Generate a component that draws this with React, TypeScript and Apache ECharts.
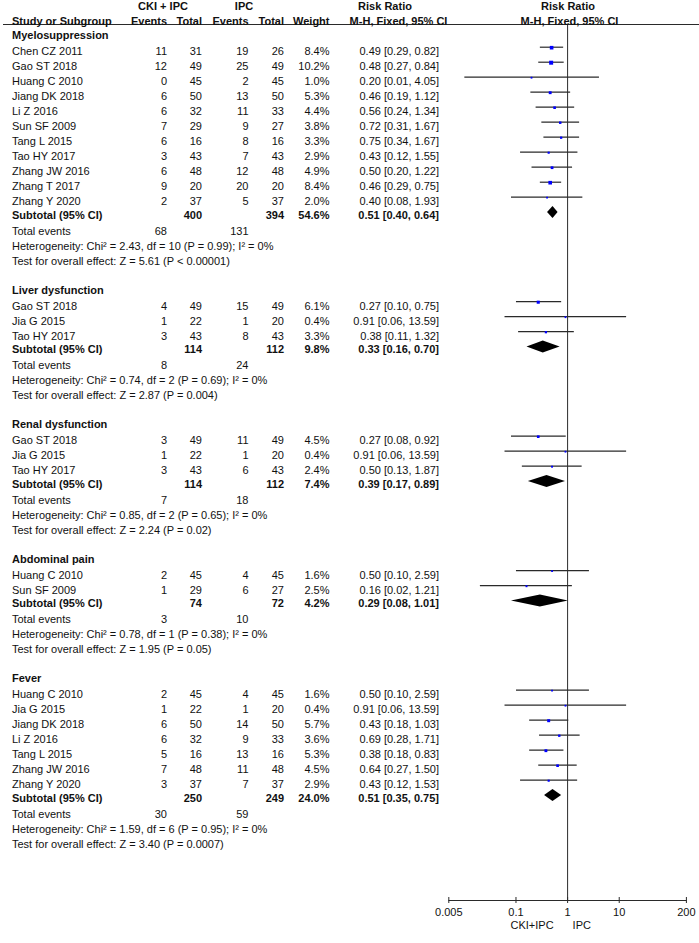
import React, { useEffect, useRef } from "react";
import * as echarts from "echarts";

// ---------------- DATA ----------------
const sectionTitles = ["Myelosuppression", "Liver dysfunction", "Renal dysfunction", "Abdominal pain", "Fever"];

const myeloStudies = ["Chen CZ 2011", "Gao ST 2018", "Huang C 2010", "Jiang DK 2018", "Li Z 2016", "Sun SF 2009", "Tang L 2015", "Tao HY 2017", "Zhang JW 2016", "Zhang T 2017", "Zhang Y 2020"];
const myeloCkiEvents = [11, 12, 0, 6, 6, 7, 6, 3, 6, 9, 2];
const myeloCkiTotal = [31, 49, 45, 50, 32, 29, 16, 43, 48, 20, 37];
const myeloIpcEvents = [19, 25, 2, 13, 11, 9, 8, 7, 12, 20, 5];
const myeloIpcTotal = [26, 49, 45, 50, 33, 27, 16, 43, 48, 20, 37];
const myeloWeight = [8.4, 10.2, 1.0, 5.3, 4.4, 3.8, 3.3, 2.9, 4.9, 8.4, 2.0];
const myeloRR = [0.49, 0.48, 0.2, 0.46, 0.56, 0.72, 0.75, 0.43, 0.5, 0.46, 0.4];
const myeloLo = [0.29, 0.27, 0.01, 0.19, 0.24, 0.31, 0.34, 0.12, 0.2, 0.29, 0.08];
const myeloHi = [0.82, 0.84, 4.05, 1.12, 1.34, 1.67, 1.67, 1.55, 1.22, 0.75, 1.93];

const liverStudies = ["Gao ST 2018", "Jia G 2015", "Tao HY 2017"];
const liverCkiEvents = [4, 1, 3];
const liverCkiTotal = [49, 22, 43];
const liverIpcEvents = [15, 1, 8];
const liverIpcTotal = [49, 20, 43];
const liverWeight = [6.1, 0.4, 3.3];
const liverRR = [0.27, 0.91, 0.38];
const liverLo = [0.1, 0.06, 0.11];
const liverHi = [0.75, 13.59, 1.32];

const renalStudies = ["Gao ST 2018", "Jia G 2015", "Tao HY 2017"];
const renalCkiEvents = [3, 1, 3];
const renalCkiTotal = [49, 22, 43];
const renalIpcEvents = [11, 1, 6];
const renalIpcTotal = [49, 20, 43];
const renalWeight = [4.5, 0.4, 2.4];
const renalRR = [0.27, 0.91, 0.5];
const renalLo = [0.08, 0.06, 0.13];
const renalHi = [0.92, 13.59, 1.87];

const abdoStudies = ["Huang C 2010", "Sun SF 2009"];
const abdoCkiEvents = [2, 1];
const abdoCkiTotal = [45, 29];
const abdoIpcEvents = [4, 6];
const abdoIpcTotal = [45, 27];
const abdoWeight = [1.6, 2.5];
const abdoRR = [0.5, 0.16];
const abdoLo = [0.1, 0.02];
const abdoHi = [2.59, 1.21];

const feverStudies = ["Huang C 2010", "Jia G 2015", "Jiang DK 2018", "Li Z 2016", "Tang L 2015", "Zhang JW 2016", "Zhang Y 2020"];
const feverCkiEvents = [2, 1, 6, 6, 5, 7, 3];
const feverCkiTotal = [45, 22, 50, 32, 16, 48, 37];
const feverIpcEvents = [4, 1, 14, 9, 13, 11, 7];
const feverIpcTotal = [45, 20, 50, 33, 16, 48, 37];
const feverWeight = [1.6, 0.4, 5.7, 3.6, 5.3, 4.5, 2.9];
const feverRR = [0.5, 0.91, 0.43, 0.69, 0.38, 0.64, 0.43];
const feverLo = [0.1, 0.06, 0.18, 0.28, 0.18, 0.27, 0.12];
const feverHi = [2.59, 13.59, 1.03, 1.71, 0.83, 1.5, 1.53];

const subtotalCkiTotal = [400, 114, 114, 74, 250];
const subtotalIpcTotal = [394, 112, 112, 72, 249];
const subtotalWeight = [54.6, 9.8, 7.4, 4.2, 24.0];
const subtotalRR = [0.51, 0.33, 0.39, 0.29, 0.51];
const subtotalLo = [0.4, 0.16, 0.17, 0.08, 0.35];
const subtotalHi = [0.64, 0.7, 0.89, 1.01, 0.75];
const totalEventsCki = [68, 8, 7, 3, 30];
const totalEventsIpc = [131, 24, 18, 10, 59];
const heterogeneityTexts = [
  "Heterogeneity: Chi² = 2.43, df = 10 (P = 0.99); I² = 0%",
  "Heterogeneity: Chi² = 0.74, df = 2 (P = 0.69); I² = 0%",
  "Heterogeneity: Chi² = 0.85, df = 2 (P = 0.65); I² = 0%",
  "Heterogeneity: Chi² = 0.78, df = 1 (P = 0.38); I² = 0%",
  "Heterogeneity: Chi² = 1.59, df = 6 (P = 0.95); I² = 0%",
];
const overallEffectTexts = [
  "Test for overall effect: Z = 5.61 (P < 0.00001)",
  "Test for overall effect: Z = 2.87 (P = 0.004)",
  "Test for overall effect: Z = 2.24 (P = 0.02)",
  "Test for overall effect: Z = 1.95 (P = 0.05)",
  "Test for overall effect: Z = 3.40 (P = 0.0007)",
];

const axisTickValues = [0.005, 0.1, 1, 10, 200];
const axisTickLabels = ["0.005", "0.1", "1", "10", "200"];
const favoursLabels = ["CKI+IPC", "IPC"];
const nullValue = 1;

// ---------------- LAYOUT ----------------
const W = 699;
const H = 943;
const AXIS_Y = 900;
const FONT = '"Liberation Sans", Arial, Helvetica, sans-serif';
const TXT = "#111";
const LINE = "#2a2a2a";
const COL = { name: 12, ckiE: 167, ckiT: 202, ipcE: 248.5, ipcT: 284, weight: 329.5, rr: 439 };
const L = {
  firstSection: 35,
  titleToStudy: 16,
  studyStep: 15,
  studyToSubtotal: 13.5,
  subtotalToTotal: 16,
  totalToHet: 15,
  hetToTest: 15,
  sectionGap: 29,
  markOffset: -3.8,
  diamondOffset: -2.5,
};

const sections = [
  { s: myeloStudies, ce: myeloCkiEvents, ct: myeloCkiTotal, ie: myeloIpcEvents, it: myeloIpcTotal, w: myeloWeight, rr: myeloRR, lo: myeloLo, hi: myeloHi },
  { s: liverStudies, ce: liverCkiEvents, ct: liverCkiTotal, ie: liverIpcEvents, it: liverIpcTotal, w: liverWeight, rr: liverRR, lo: liverLo, hi: liverHi },
  { s: renalStudies, ce: renalCkiEvents, ct: renalCkiTotal, ie: renalIpcEvents, it: renalIpcTotal, w: renalWeight, rr: renalRR, lo: renalLo, hi: renalHi },
  { s: abdoStudies, ce: abdoCkiEvents, ct: abdoCkiTotal, ie: abdoIpcEvents, it: abdoIpcTotal, w: abdoWeight, rr: abdoRR, lo: abdoLo, hi: abdoHi },
  { s: feverStudies, ce: feverCkiEvents, ct: feverCkiTotal, ie: feverIpcEvents, it: feverIpcTotal, w: feverWeight, rr: feverRR, lo: feverLo, hi: feverHi },
];

type TextItem = { x: number; y: number; text: string; align: string; bold?: boolean };

const fmtCI = (r: number, lo: number, hi: number) => `${r.toFixed(2)} [${lo.toFixed(2)}, ${hi.toFixed(2)}]`;

function buildRows() {
  const texts: TextItem[] = [];
  const cis: number[][] = [];
  const diamonds: number[][] = [];
  // header
  texts.push({ x: 163, y: 6, text: "CKI + IPC", align: "center", bold: true });
  texts.push({ x: 244, y: 6, text: "IPC", align: "center", bold: true });
  texts.push({ x: 385, y: 6, text: "Risk Ratio", align: "center", bold: true });
  texts.push({ x: 568, y: 6, text: "Risk Ratio", align: "center", bold: true });
  const hy = 20.5;
  texts.push({ x: COL.name, y: hy, text: "Study or Subgroup", align: "left", bold: true });
  texts.push({ x: COL.ckiE, y: hy, text: "Events", align: "right", bold: true });
  texts.push({ x: COL.ckiT, y: hy, text: "Total", align: "right", bold: true });
  texts.push({ x: COL.ipcE, y: hy, text: "Events", align: "right", bold: true });
  texts.push({ x: COL.ipcT, y: hy, text: "Total", align: "right", bold: true });
  texts.push({ x: COL.weight, y: hy, text: "Weight", align: "right", bold: true });
  texts.push({ x: 398.5, y: hy, text: "M-H, Fixed, 95% CI", align: "center", bold: true });
  texts.push({ x: 569.5, y: hy, text: "M-H, Fixed, 95% CI", align: "center", bold: true });

  let y = L.firstSection;
  sections.forEach((sec, si) => {
    texts.push({ x: COL.name, y, text: sectionTitles[si], align: "left", bold: true });
    y += L.titleToStudy;
    sec.s.forEach((name, i) => {
      texts.push({ x: COL.name, y, text: name, align: "left" });
      texts.push({ x: COL.ckiE, y, text: String(sec.ce[i]), align: "right" });
      texts.push({ x: COL.ckiT, y, text: String(sec.ct[i]), align: "right" });
      texts.push({ x: COL.ipcE, y, text: String(sec.ie[i]), align: "right" });
      texts.push({ x: COL.ipcT, y, text: String(sec.it[i]), align: "right" });
      texts.push({ x: COL.weight, y, text: sec.w[i].toFixed(1) + "%", align: "right" });
      texts.push({ x: COL.rr, y, text: fmtCI(sec.rr[i], sec.lo[i], sec.hi[i]), align: "right" });
      cis.push([Math.log10(sec.lo[i]), Math.log10(sec.hi[i]), Math.log10(sec.rr[i]), y + L.markOffset, sec.w[i]]);
      if (i < sec.s.length - 1) y += L.studyStep;
    });
    y += L.studyToSubtotal;
    texts.push({ x: COL.name, y, text: "Subtotal (95% CI)", align: "left", bold: true });
    texts.push({ x: COL.ckiT, y, text: String(subtotalCkiTotal[si]), align: "right", bold: true });
    texts.push({ x: COL.ipcT, y, text: String(subtotalIpcTotal[si]), align: "right", bold: true });
    texts.push({ x: COL.weight, y, text: subtotalWeight[si].toFixed(1) + "%", align: "right", bold: true });
    texts.push({ x: COL.rr, y, text: fmtCI(subtotalRR[si], subtotalLo[si], subtotalHi[si]), align: "right", bold: true });
    diamonds.push([Math.log10(subtotalLo[si]), Math.log10(subtotalHi[si]), Math.log10(subtotalRR[si]), y + L.diamondOffset]);
    y += L.subtotalToTotal;
    texts.push({ x: COL.name, y, text: "Total events", align: "left" });
    texts.push({ x: COL.ckiE, y, text: String(totalEventsCki[si]), align: "right" });
    texts.push({ x: COL.ipcE, y, text: String(totalEventsIpc[si]), align: "right" });
    y += L.totalToHet;
    texts.push({ x: COL.name, y, text: heterogeneityTexts[si], align: "left" });
    y += L.hetToTest;
    texts.push({ x: COL.name, y, text: overallEffectTexts[si], align: "left" });
    y += L.sectionGap;
  });
  return { texts, cis, diamonds };
}

export default function App() {
  const ref = useRef<HTMLDivElement>(null);
  useEffect(() => {
    if (!ref.current) return;
    const chart = echarts.init(ref.current, null, { renderer: "svg" });
    const { texts, cis, diamonds } = buildRows();
    const lmin = Math.log10(axisTickValues[0]);
    const lmax = Math.log10(axisTickValues[axisTickValues.length - 1]);
    const txtStyle = (t: string, align: string, bold = false) => ({
      text: t,
      fill: TXT,
      fontFamily: FONT,
      fontSize: 11,
      fontWeight: bold ? "bold" : "normal",
      align,
      verticalAlign: "middle",
    });

    const option: any = {
      animation: false,
      grid: [
        { left: 0, top: 0, width: W, height: H },
        { left: 448.8, top: 0, width: 237.6, height: AXIS_Y },
      ],
      xAxis: [
        { gridIndex: 0, type: "value", min: 0, max: W, show: false },
        {
          gridIndex: 1,
          type: "value",
          min: lmin,
          max: lmax,
          axisLine: { show: true, onZero: false, lineStyle: { color: LINE, width: 1 } },
          axisTick: { show: false },
          axisLabel: { show: false },
          splitLine: { show: false },
        },
      ],
      yAxis: [
        { gridIndex: 0, type: "value", min: 0, max: H, inverse: true, show: false },
        { gridIndex: 1, type: "value", min: 0, max: AXIS_Y, inverse: true, show: false },
      ],
      graphic: [
        { type: "line", shape: { x1: 3, y1: 24.5, x2: W, y2: 24.5 }, style: { stroke: LINE, lineWidth: 1 }, silent: true },
      ],
      series: [
        {
          type: "custom",
          xAxisIndex: 0,
          yAxisIndex: 0,
          clip: false,
          data: texts.map((t) => [t.x, t.y]),
          renderItem: (params: any, api: any) => {
            const t = texts[params.dataIndex];
            const p = api.coord([t.x, t.y]);
            return { type: "text", x: p[0], y: p[1], style: txtStyle(t.text, t.align, t.bold) };
          },
        },
        {
          // null line at RR = 1
          type: "custom",
          xAxisIndex: 1,
          yAxisIndex: 1,
          clip: false,
          data: [[Math.log10(nullValue), 25, AXIS_Y]],
          renderItem: (params: any, api: any) => {
            const a = api.coord([api.value(0), api.value(1)]);
            const b = api.coord([api.value(0), api.value(2)]);
            return { type: "line", shape: { x1: a[0], y1: a[1], x2: b[0], y2: b[1] }, style: { stroke: LINE, lineWidth: 1 } };
          },
        },
        {
          // study CIs and squares
          type: "custom",
          xAxisIndex: 1,
          yAxisIndex: 1,
          clip: false,
          data: cis,
          renderItem: (params: any, api: any) => {
            const lo = api.coord([api.value(0), api.value(3)]);
            const hi = api.coord([api.value(1), api.value(3)]);
            const c = api.coord([api.value(2), api.value(3)]);
            const w = api.value(4);
            const s = Math.max(1.8, 1.25 * Math.sqrt(w));
            return {
              type: "group",
              children: [
                { type: "line", shape: { x1: lo[0], y1: lo[1], x2: hi[0], y2: hi[1] }, style: { stroke: LINE, lineWidth: 1.2 } },
                { type: "rect", shape: { x: c[0] - s / 2, y: c[1] + 0.5 - s / 2, width: s, height: s }, style: { fill: "#0000ff" } },
              ],
            };
          },
        },
        {
          // subtotal diamonds
          type: "custom",
          xAxisIndex: 1,
          yAxisIndex: 1,
          clip: false,
          data: diamonds,
          renderItem: (params: any, api: any) => {
            const lo = api.coord([api.value(0), api.value(3)]);
            const hi = api.coord([api.value(1), api.value(3)]);
            const c = api.coord([api.value(2), api.value(3)]);
            const h = 6;
            return {
              type: "polygon",
              shape: { points: [[lo[0], lo[1]], [c[0], c[1] - h], [hi[0], hi[1]], [c[0], c[1] + h]] },
              style: { fill: "#000" },
            };
          },
        },
        {
          // axis ticks and labels
          type: "custom",
          xAxisIndex: 1,
          yAxisIndex: 1,
          clip: false,
          data: axisTickValues.map((v) => [Math.log10(v), AXIS_Y]),
          renderItem: (params: any, api: any) => {
            const p = api.coord([api.value(0), api.value(1)]);
            return {
              type: "group",
              children: [
                { type: "line", shape: { x1: p[0], y1: p[1] - 3, x2: p[0], y2: p[1] + 3 }, style: { stroke: LINE, lineWidth: 1 } },
                { type: "text", x: p[0], y: p[1] + 11.5, style: txtStyle(axisTickLabels[params.dataIndex], "center") },
              ],
            };
          },
        },
        {
          // favours labels
          type: "custom",
          xAxisIndex: 1,
          yAxisIndex: 1,
          clip: false,
          data: [[Math.log10(nullValue), AXIS_Y]],
          renderItem: (params: any, api: any) => {
            const p = api.coord([api.value(0), api.value(1)]);
            return {
              type: "group",
              children: [
                { type: "text", x: p[0] - 14, y: p[1] + 24.5, style: txtStyle(favoursLabels[0], "right") },
                { type: "text", x: p[0] + 5, y: p[1] + 24.5, style: txtStyle(favoursLabels[1], "left") },
              ],
            };
          },
        },
      ],
    };
    chart.setOption(option);
    return () => chart.dispose();
  }, []);
  return <div ref={ref} style={{ position: "absolute", left: 0, top: 0, width: W, height: H }} />;
}
